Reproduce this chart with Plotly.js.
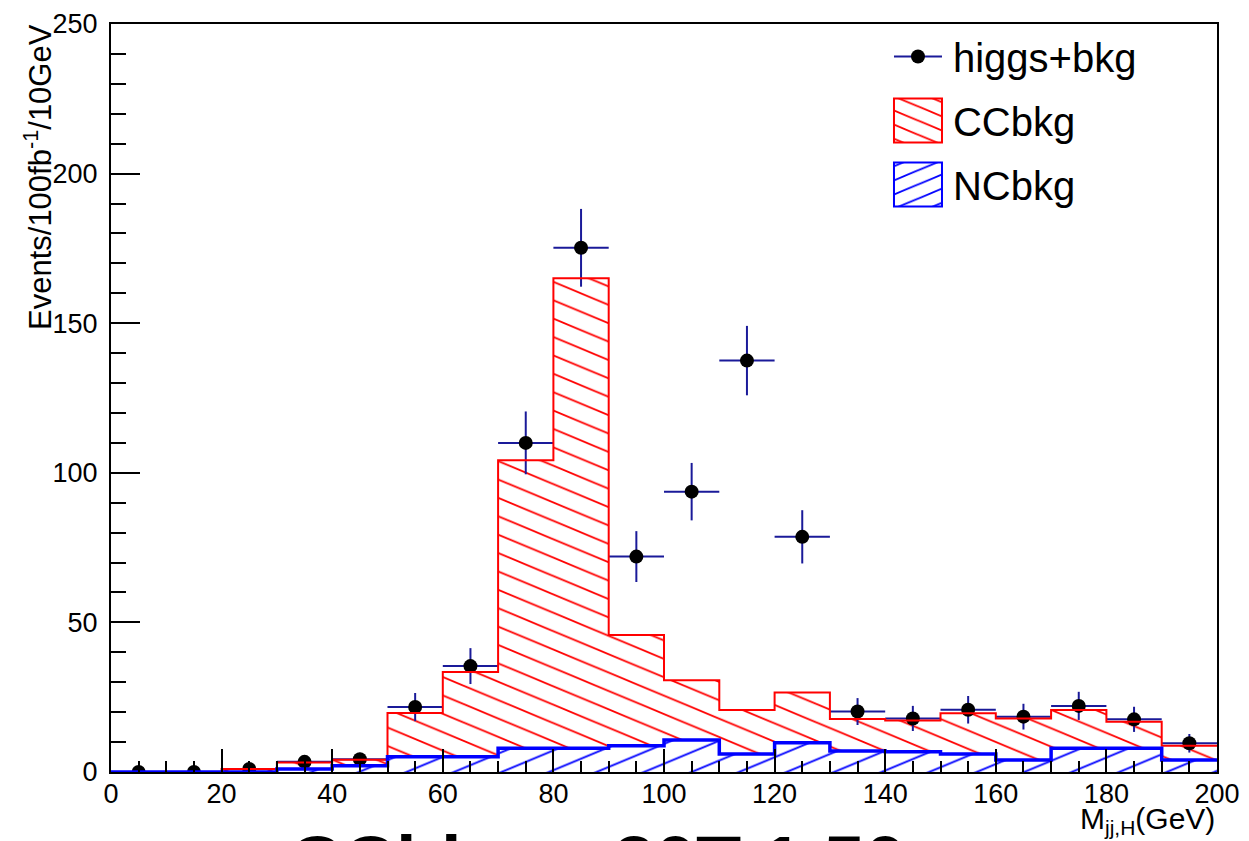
<!DOCTYPE html>
<html><head><meta charset="utf-8">
<script src="https://cdn.plot.ly/plotly-3.0.1.min.js"></script>
<style>body{margin:0;background:#fff}#chart{width:1249px;height:841px}</style>
</head><body><div id="chart"></div>
<script>
// ---- data ----
const binCenters = [5,15,25,35,45,55,65,75,85,95,105,115,125,135,145,155,165,175,185,195];
const ccbkg     = [0,0,1.0,3.2,4.1,19.7,33.4,104.2,165.0,45.8,30.7,20.7,26.6,17.7,17.2,19.6,17.9,20.7,16.8,8.8];
const ncbkg     = [0,0,0,1.0,2.1,5.1,5.1,7.9,7.9,8.8,10.7,6.0,9.8,7.0,6.8,6.0,4.0,7.9,7.9,4.0];
const higgsBkg  = [0,0,1.0,3.4,4.3,21.7,35.4,110.0,175.2,72.0,93.7,137.5,78.6,20.2,17.9,20.8,18.5,22.1,17.6,9.6];
const higgsErr  = [0,0,1.0,1.8,2.1,4.7,6.0,10.5,13.0,8.5,9.6,11.6,8.9,4.5,4.2,4.6,4.3,4.7,4.2,3.1];
const xTickVals = [0,20,40,60,80,100,120,140,160,180,200];
const yTickVals = [0,50,100,150,200,250];
const binWidth = 10;

const edges = binCenters.map(c => c - binWidth/2).concat([binCenters[binCenters.length-1] + binWidth/2]);
const stepY = arr => arr.concat([arr[arr.length-1]]);
const FONT = 'Liberation Sans, Arial, Helvetica, sans-serif';

const traces = [
  {type:'scatter', mode:'markers', name:'higgs+bkg', x:binCenters, y:higgsBkg, legendgroup:'a',
   marker:{color:'black', size:14, symbol:'circle'},
   error_y:{type:'data', array:higgsErr, visible:true, color:'#1a1a99', thickness:2, width:0},
   error_x:{type:'constant', value:binWidth/2, visible:true, color:'#1a1a99', thickness:2, width:0}},
  {type:'bar', name:'CCbkg', x:binCenters, y:ccbkg, width:binWidth, legendgroup:'b',
   marker:{color:'white', line:{width:0},
     pattern:{shape:'\\', fgcolor:'#ff0000', bgcolor:'white', size:13, solidity:0.1, fillmode:'replace'}},
   hoverinfo:'skip'},
  {type:'bar', name:'NCbkg', x:binCenters, y:ncbkg, width:binWidth, legendgroup:'c',
   marker:{color:'white', line:{width:0},
     pattern:{shape:'/', fgcolor:'#0000ff', bgcolor:'white', size:14, solidity:0.1, fillmode:'replace'}},
   hoverinfo:'skip'},
  {type:'scatter', mode:'lines', x:edges, y:stepY(ccbkg), line:{shape:'hv', color:'#ff0000', width:2},
   showlegend:false, hoverinfo:'skip'},
  {type:'scatter', mode:'lines', x:edges, y:stepY(ncbkg), line:{shape:'hv', color:'#0000ff', width:3.5},
   showlegend:false, hoverinfo:'skip'}
];

const layout = {
  width:1249, height:841,
  margin:{l:111, r:32, t:24, b:69},
  paper_bgcolor:'white', plot_bgcolor:'white',
  barmode:'overlay', bargap:0,
  font:{family:FONT, color:'black', size:26},
  showlegend:true,
  legend:{x:0.698, y:1.0, xanchor:'left', yanchor:'top', bgcolor:'rgba(0,0,0,0)', borderwidth:0,
    font:{family:FONT, size:40, color:'black'}, tracegroupgap:9, itemwidth:60, traceorder:'grouped'},
  xaxis:{range:[0,200], tickvals:xTickVals, ticks:'inside', ticklen:23, tickwidth:2, tickcolor:'black',
    showline:true, linewidth:2, linecolor:'black', mirror:true, showgrid:false, zeroline:false,
    tickfont:{family:FONT, size:27}, ticklabelstandoff:-3,
    minor:{dtick:5, ticks:'inside', ticklen:11, tickwidth:2, tickcolor:'black', showgrid:false}},
  yaxis:{range:[0,250], tickvals:yTickVals, ticks:'inside', ticklen:29, tickwidth:2, tickcolor:'black',
    showline:true, linewidth:2, linecolor:'black', mirror:true, showgrid:false, zeroline:false,
    tickfont:{family:FONT, size:27}, ticklabelstandoff:6,
    minor:{dtick:10, ticks:'inside', ticklen:15, tickwidth:2, tickcolor:'black', showgrid:false}},
  annotations:[
    {text:'Events/100fb<sup>-1</sup>/10GeV', xref:'paper', yref:'paper', x:0, y:1, xanchor:'center', yanchor:'top',
     xshift:-73, yshift:2, textangle:-90, showarrow:false, font:{family:FONT, size:31, color:'black'}},
    {text:'M<sub>jj,H</sub>(GeV)', xref:'paper', yref:'paper', x:1, y:0, xanchor:'right', yanchor:'top',
     yshift:-28, showarrow:false, font:{family:FONT, size:30, color:'black'}},
    {text:'<b>CChiggs 30T 1.50</b>', xref:'paper', yref:'paper', x:0.44, y:0, xanchor:'center', yanchor:'top',
     yshift:-47, showarrow:false, font:{family:FONT, size:74, color:'black'}}
  ]
};

Plotly.newPlot('chart', traces, layout, {displayModeBar:false, staticPlot:true}).then(gd => {
  // flatten hatch angle to resemble ROOT hatching
  gd.querySelectorAll('pattern').forEach(p => {
    p.setAttribute('patternTransform', 'scale(2.4,1)');
    p.querySelectorAll('path').forEach(pp => pp.setAttribute('stroke-width', '1.4px'));
  });
  // enlarge legend boxes with outline
  const colors = {'CCbkg':'#ff0000', 'NCbkg':'#0000ff'};
  gd.querySelectorAll('.legend .traces').forEach(tr => {
    const txt = tr.querySelector('text.legendtext');
    const name = txt ? txt.textContent : '';
    const bar = tr.querySelector('path.legendbar') || tr.querySelector('.legendpoints path');
    if (colors[name] && bar) {
      bar.setAttribute('d', 'M24,22H-24V-22H24Z');
      bar.style.stroke = colors[name];
      bar.style.strokeWidth = '2px';
    }
    if (name === 'higgs+bkg') {
      const pt = tr.querySelector('.legendpoints path.scatterpts');
      if (pt) {
        const ln = document.createElementNS('http://www.w3.org/2000/svg', 'path');
        ln.setAttribute('d', 'M-24,0H24');
        ln.setAttribute('transform', pt.getAttribute('transform') || '');
        ln.style.stroke = '#1a1a99';
        ln.style.strokeWidth = '2px';
        pt.parentNode.insertBefore(ln, pt);
      }
    }
  });
});
</script>
</body></html>
